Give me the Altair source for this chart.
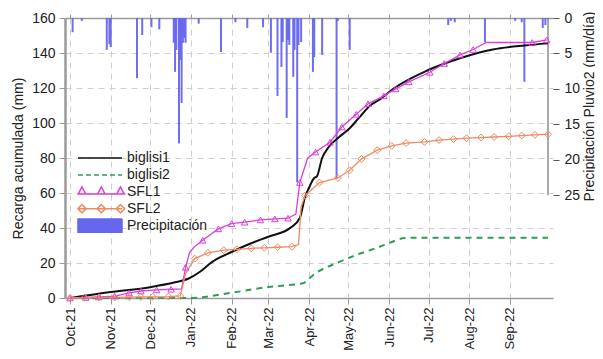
import altair as alt
import pandas as pd

FONT = "Liberation Sans"

# ---------------- data ----------------
b1_dates = ["2021-10-01", "2021-11-01", "2021-12-01", "2021-12-20", "2021-12-30", "2022-01-08",
            "2022-01-17", "2022-02-01", "2022-02-15", "2022-03-01", "2022-03-18", "2022-03-25",
            "2022-03-29", "2022-04-01", "2022-04-05", "2022-04-07", "2022-04-11", "2022-04-16",
            "2022-04-24", "2022-05-02", "2022-05-09", "2022-05-18", "2022-05-24", "2022-06-05",
            "2022-06-30", "2022-07-25", "2022-08-19", "2022-09-12", "2022-09-30"]
b1_vals = [0, 3.4, 6.2, 9.0, 11.0, 15.0, 20.5, 26.3, 31.0, 35.0, 40.2, 45.7, 57.7, 63.0, 68.6,
           69.5, 80.0, 86.3, 92.0, 97.0, 102.9, 110.3, 113.0, 120.0, 130.0, 137.0, 142.0, 144.3, 145.5]

b2_dates = ["2021-10-01", "2021-12-31", "2022-02-01", "2022-03-01", "2022-03-28", "2022-03-30",
            "2022-04-04", "2022-04-24", "2022-05-07", "2022-05-24", "2022-06-03", "2022-06-13",
            "2022-06-23", "2022-09-30"]
b2_vals = [0, 0, 3.0, 6.3, 8.6, 9.7, 13.0, 20.6, 24.6, 29.0, 32.0, 34.3, 34.5, 34.5]

s1_dates = ["2021-10-01", "2021-10-13", "2021-10-23", "2021-11-04", "2021-11-15", "2021-11-24",
            "2021-12-06", "2021-12-17", "2021-12-25", "2021-12-28", "2021-12-31", "2022-01-04",
            "2022-01-10", "2022-01-22", "2022-02-01", "2022-02-11", "2022-02-23", "2022-03-06",
            "2022-03-16", "2022-03-22", "2022-03-25", "2022-03-31", "2022-04-06", "2022-04-17",
            "2022-04-26", "2022-05-07", "2022-05-16", "2022-05-28", "2022-06-06", "2022-06-16",
            "2022-07-02", "2022-07-13", "2022-07-25", "2022-08-04", "2022-08-14", "2022-09-18",
            "2022-09-29"]
s1_vals = [0, 0.3, 0.6, 1.1, 2.9, 4.0, 4.6, 5.0, 5.2, 17.5, 26.0, 29.5, 33.0, 39.5, 42.5, 43.3,
           44.6, 45.2, 45.6, 48.0, 66.0, 80.0, 83.4, 89.0, 97.7, 105.0, 111.0, 115.5, 119.5, 123.5,
           129.0, 134.0, 138.9, 142.0, 146.0, 146.0, 147.5]
s1_mark = [1, 1, 1, 1, 1, 1, 1, 1, 0, 1, 0, 0, 1, 1, 1, 1, 1, 1, 1, 0, 1, 0, 1, 1, 1, 1, 1, 1, 1, 1,
           1, 1, 1, 1, 0, 1, 1]

s2_dates = ["2021-10-01", "2021-10-12", "2021-10-23", "2021-11-04", "2021-11-15", "2021-11-24",
            "2021-12-03", "2021-12-15", "2021-12-24", "2021-12-28", "2022-01-04", "2022-01-14",
            "2022-01-26", "2022-02-05", "2022-02-16", "2022-02-26", "2022-03-08", "2022-03-19",
            "2022-03-24", "2022-03-26", "2022-03-29", "2022-04-09", "2022-04-23", "2022-05-02",
            "2022-05-11", "2022-05-23", "2022-06-03", "2022-06-14", "2022-06-28", "2022-07-09",
            "2022-07-20", "2022-07-30", "2022-08-10", "2022-08-20", "2022-08-31", "2022-09-10",
            "2022-09-20", "2022-09-30"]
s2_vals = [0, 0.2, 0.3, 0.4, 0.5, 0.6, 0.7, 0.8, 1.2, 14.0, 22.5, 25.8, 27.3, 27.8, 28.4, 28.7,
           29.0, 29.3, 30.5, 52.0, 58.5, 66.0, 68.6, 73.0, 79.5, 84.5, 86.9, 88.5, 89.2, 90.2,
           90.8, 91.3, 91.7, 92.0, 92.4, 92.8, 93.2, 93.6]
s2_mark = [1, 1, 1, 1, 1, 1, 1, 1, 1, 0, 1, 1, 1, 1, 1, 1, 1, 1, 0, 0, 1, 1, 1, 1, 1, 1, 1, 1, 1, 1,
           1, 1, 1, 1, 1, 1, 1, 1]

p_dates = ["2021-10-03", "2021-10-10", "2021-10-29", "2021-10-31", "2021-11-01", "2021-11-21",
           "2021-11-25", "2021-12-02", "2021-12-08", "2021-12-19", "2021-12-20", "2021-12-21",
           "2021-12-23", "2021-12-24", "2021-12-25", "2021-12-26", "2021-12-27", "2021-12-28",
           "2022-01-07", "2022-01-24", "2022-02-04", "2022-02-13", "2022-02-25", "2022-03-03",
           "2022-03-08", "2022-03-11", "2022-03-12", "2022-03-15", "2022-03-16", "2022-03-17",
           "2022-03-20", "2022-03-21", "2022-03-23", "2022-03-24", "2022-03-26", "2022-04-04",
           "2022-04-05", "2022-04-11", "2022-04-22", "2022-04-23", "2022-05-02", "2022-07-16",
           "2022-07-18", "2022-07-21", "2022-08-13", "2022-09-05", "2022-09-10", "2022-09-12",
           "2022-09-26", "2022-09-28"]
p_vals = [2.0, 0.4, 4.5, 3.7, 4.1, 8.5, 2.4, 1.3, 1.6, 3.5, 7.6, 4.5, 17.7, 5.9, 12.0, 3.5, 2.8,
          3.5, 0.8, 4.8, 0.6, 1.4, 1.3, 4.9, 11.0, 6.9, 3.4, 14.1, 3.1, 3.8, 8.3, 4.5, 23.2, 3.8,
          3.4, 7.6, 5.5, 5.2, 22.6, 0.4, 4.5, 1.0, 0.4, 0.6, 3.4, 0.4, 0.6, 9.0, 1.4, 1.0]

series_names = ["biglisi1", "biglisi2", "SFL1", "SFL2", "Precipitación"]
series_colors = ["#111111", "#2e9e55", "#dd3ddd", "#ee8a60", "#6666ee"]
month_ticks = [(2021, 10), (2021, 11), (2021, 12), (2022, 1), (2022, 2), (2022, 3),
               (2022, 4), (2022, 5), (2022, 6), (2022, 7), (2022, 8), (2022, 9)]
left_ticks = [0, 20, 40, 60, 80, 100, 120, 140, 160]
right_ticks = [0, 5, 10, 15, 20, 25]
x_start = (2021, 10, 1)
x_end = (2022, 9, 30)

# ---------------- tables ----------------
frames = []
for name, d, v, m in [("biglisi1", b1_dates, b1_vals, [0] * len(b1_vals)),
                      ("biglisi2", b2_dates, b2_vals, [0] * len(b2_vals)),
                      ("SFL1", s1_dates, s1_vals, s1_mark),
                      ("SFL2", s2_dates, s2_vals, s2_mark)]:
    frames.append(pd.DataFrame({"date": d, "value": v, "mark": m, "serie": name}))
lines = pd.DataFrame(pd.concat(frames, ignore_index=True))
precip = pd.DataFrame({"date": p_dates, "pp": p_vals, "serie": "Precipitación"})
raxis = pd.DataFrame({"date": ["2022-09-30"], "lo": [right_ticks[0]], "hi": [right_ticks[-1]]})
legend_df = pd.DataFrame({"serie": series_names})

W, H = 488, 280
GRID = "#cfcfcf"
AX = "#9a9a9a"
C = dict(zip(series_names, series_colors))

dt = lambda y, m, d=1: alt.DateTime(year=y, month=m, date=d, utc=True)
xscale = alt.Scale(type="utc", domain=[dt(*x_start), dt(*x_end)])
tick_vals = [dt(y, m) for y, m in month_ticks]

bottom_axis = alt.Axis(values=tick_vals, format="%b-%y", labelAngle=270, labelFontSize=13,
                       labelColor="#222", tickSize=6, tickColor=AX, domainColor=AX,
                       domainWidth=1.5, grid=True, gridDash=[6, 5], gridColor=GRID,
                       labelPadding=3, title=None, labelOverlap=False, labelFlush=False)
top_axis = alt.Axis(orient="top", values=tick_vals, labels=False, tickSize=4, tickColor=AX,
                    domainColor=AX, domainWidth=1.5, grid=False, title=None)

x_bottom = alt.X("date:T", scale=xscale, axis=bottom_axis)
x_top = alt.X("date:T", scale=xscale, axis=top_axis)

left_axis = alt.Axis(values=left_ticks, grid=True, gridDash=[6, 5], gridColor=GRID,
                     domainColor=AX, domainWidth=2.5, tickColor=AX, tickSize=6,
                     labelFontSize=14, labelColor="#222", labelPadding=4,
                     title="Recarga acumulada (mm)", titleFontSize=14, titleFontWeight="normal",
                     titleColor="#222", titleX=-47, titleY=140, titleAngle=270,
                     titleBaseline="middle", titleAlign="center")
y_left = alt.Y("value:Q", scale=alt.Scale(domain=[0, 160], nice=False), axis=left_axis)

right_axis = alt.Axis(orient="right", values=right_ticks, domain=False, grid=False, tickSize=6,
                      tickColor="#555", labelFontSize=14, labelColor="#222", labelPadding=5,
                      title="Precipitación Pluvio2 (mm/día)", titleFontSize=14,
                      titleFontWeight="normal", titleColor="#222", titleAngle=270,
                      titleX=36, titleY=88, titleBaseline="middle", titleAlign="center")
pp_scale = alt.Scale(domain=[0, 39.5], reverse=True, nice=False, zero=True)

# legend glyphs (custom symbol paths, unit box -1..1)
def tri(cx):
    return f"M{cx - 0.17},0.1L{cx},-0.22L{cx + 0.17},0.1Z"

def dia(cx):
    return f"M{cx},-0.19L{cx + 0.19},0L{cx},0.19L{cx - 0.19},0Z"

pos = [-0.82, 0.06, 0.93]
path_line = "M-1,0H1"
path_s1 = "M-1,0.1H1" + "".join(tri(c) for c in pos)
path_s2 = "M-1,0H1" + "".join(dia(c) for c in pos)
path_rect = "M-1,-0.3H1V0.3H-1Z"
legend_shapes = [path_line, path_line, path_s1, path_s2, path_rect]
legend_fills = ["transparent", "transparent", "transparent", "transparent", series_colors[4]]
legend_dashes = [[1, 0], [5, 3], [1, 0], [1, 0], [1, 0]]

legend = alt.Legend(orient="none", legendX=12, legendY=132, title=None, symbolSize=1936,
                    clipHeight=16, rowPadding=0.9, labelFontSize=14, labelColor="#222",
                    labelOffset=4, padding=0, symbolStrokeWidth=1.5, symbolOpacity=1)

base = alt.Chart(lines)
l_b1 = base.transform_filter(alt.datum.serie == "biglisi1").mark_line(
    interpolate="monotone", strokeWidth=2, color=C["biglisi1"]).encode(x=x_bottom, y=y_left)
l_b2 = base.transform_filter(alt.datum.serie == "biglisi2").mark_line(
    interpolate="monotone", strokeWidth=2, strokeDash=[6, 5], color=C["biglisi2"]).encode(
    x=x_bottom, y=y_left)
l_s1 = base.transform_filter(alt.datum.serie == "SFL1").mark_line(
    strokeWidth=1.3, color=C["SFL1"]).encode(x=x_bottom, y=y_left)
l_s2 = base.transform_filter(alt.datum.serie == "SFL2").mark_line(
    strokeWidth=1.3, color=C["SFL2"]).encode(x=x_bottom, y=y_left)
p_s1 = base.transform_filter("datum.serie == 'SFL1' && datum.mark == 1").mark_point(
    shape="triangle-up", filled=False, size=42, strokeWidth=1, opacity=1, color=C["SFL1"]).encode(
    x=x_bottom, y=y_left)
p_s2 = base.transform_filter("datum.serie == 'SFL2' && datum.mark == 1").mark_point(
    shape="diamond", filled=False, size=48, strokeWidth=1, opacity=1, color=C["SFL2"]).encode(
    x=x_bottom, y=y_left)

# legend-only layer (empty after filter; legend drawn from explicit scale domains)
leg = alt.Chart(legend_df).transform_filter("false").mark_point(filled=False, opacity=1).encode(
    stroke=alt.Stroke("serie:N", scale=alt.Scale(domain=series_names, range=series_colors),
                      legend=legend),
    shape=alt.Shape("serie:N", scale=alt.Scale(domain=series_names, range=legend_shapes), legend=legend),
    fill=alt.Fill("serie:N", scale=alt.Scale(domain=series_names, range=legend_fills), legend=legend),
    strokeDash=alt.StrokeDash("serie:N", scale=alt.Scale(domain=series_names, range=legend_dashes),
                              legend=legend),
)
left = alt.layer(l_b1, l_b2, l_s1, l_s2, p_s1, p_s2, leg)

bars = alt.Chart(precip).mark_bar(size=2, opacity=0.95, color=C["Precipitación"]).encode(
    x=x_top, y=alt.Y("pp:Q", scale=pp_scale, axis=right_axis))
rrule = alt.Chart(raxis).mark_rule(color="#555", strokeWidth=1).encode(
    x=x_top, y=alt.Y("lo:Q", scale=pp_scale, axis=right_axis), y2="hi:Q")
right = alt.layer(bars, rrule)

chart = alt.layer(right, left).resolve_scale(y="independent").resolve_axis(
    x="independent", y="independent").properties(
    width=W, height=H, autosize=alt.AutoSizeParams(type="none"),
    padding={"left": 57, "top": 10, "right": 42, "bottom": 53}
).configure(font=FONT).configure_view(stroke=None)

chart.save("out.html", embed_options={"renderer": "svg", "actions": False})
